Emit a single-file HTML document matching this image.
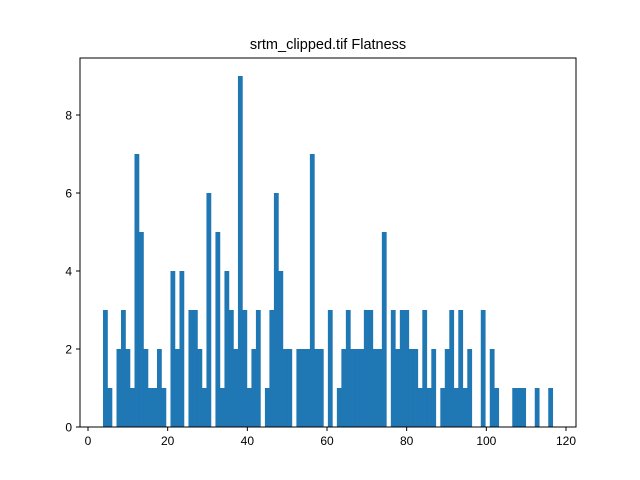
<!DOCTYPE html>
<html><head><meta charset="utf-8"><style>
body{margin:0;background:#fff;}
svg{display:block;font-family:"Liberation Sans","DejaVu Sans",sans-serif;}
</style></head><body>
<svg id="chart" width="640" height="480">
<rect width="640" height="480" fill="#fff"/>
<text x="328" y="49" text-anchor="middle" font-size="14.5">srtm_clipped.tif Flatness</text>
<g id="bars"></g>
<g id="axes"></g>
</svg>
<script>
const counts = [3,1,0,2,3,2,1,7,5,2,1,1,2,1,0,4,2,4,0,3,3,2,1,6,0,5,1,4,3,2,9,3,1,2,3,0,1,3,6,4,2,2,0,2,2,2,7,2,2,0,3,0,1,2,3,2,2,2,3,3,2,2,5,0,3,2,3,3,2,2,1,3,1,2,0,1,2,3,1,3,1,2,0,0,3,0,2,1,0,0,0,1,1,1,0,0,1,0,0,1];
const binStart = [3.77];
const binWidth = [1.129];
const xTicks = [0,20,40,60,80,100,120];
const yTicks = [0,2,4,6,8];
const L=80,R=576,T=58,B=427;
function xs(v){return 88+v*(566-88)/120;}
function ys(v){return B-v*39;}
const NS="http://www.w3.org/2000/svg";
const bars=document.getElementById('bars');
counts.forEach((c,i)=>{
  if(c<=0) return;
  const x0=xs(binStart[0]+i*binWidth[0]), x1=xs(binStart[0]+(i+1)*binWidth[0]);
  const r=document.createElementNS(NS,'rect');
  r.setAttribute('x',x0);r.setAttribute('width',x1-x0+0.3);
  r.setAttribute('y',ys(c));r.setAttribute('height',B-ys(c));
  r.setAttribute('fill','#1f77b4');
  
  
  bars.appendChild(r);
});
const ax=document.getElementById('axes');
let h='';
h+=`<rect x="${L}" y="${T}" width="${R-L}" height="${B-T}" fill="none" stroke="#000" stroke-width="1"/>`;
xTicks.forEach(t=>{const x=xs(t);
h+=`<line x1="${x}" y1="${B}" x2="${x}" y2="${B+4}" stroke="#000"/>`;
h+=`<text x="${x}" y="${B+18}" text-anchor="middle" font-size="12">${t}</text>`;});
yTicks.forEach(t=>{const y=ys(t);
h+=`<line x1="${L-4}" y1="${y}" x2="${L}" y2="${y}" stroke="#000"/>`;
h+=`<text x="${L-8}" y="${y+4.5}" text-anchor="end" font-size="12">${t}</text>`;});
ax.innerHTML=h;
</script>
</body></html>
